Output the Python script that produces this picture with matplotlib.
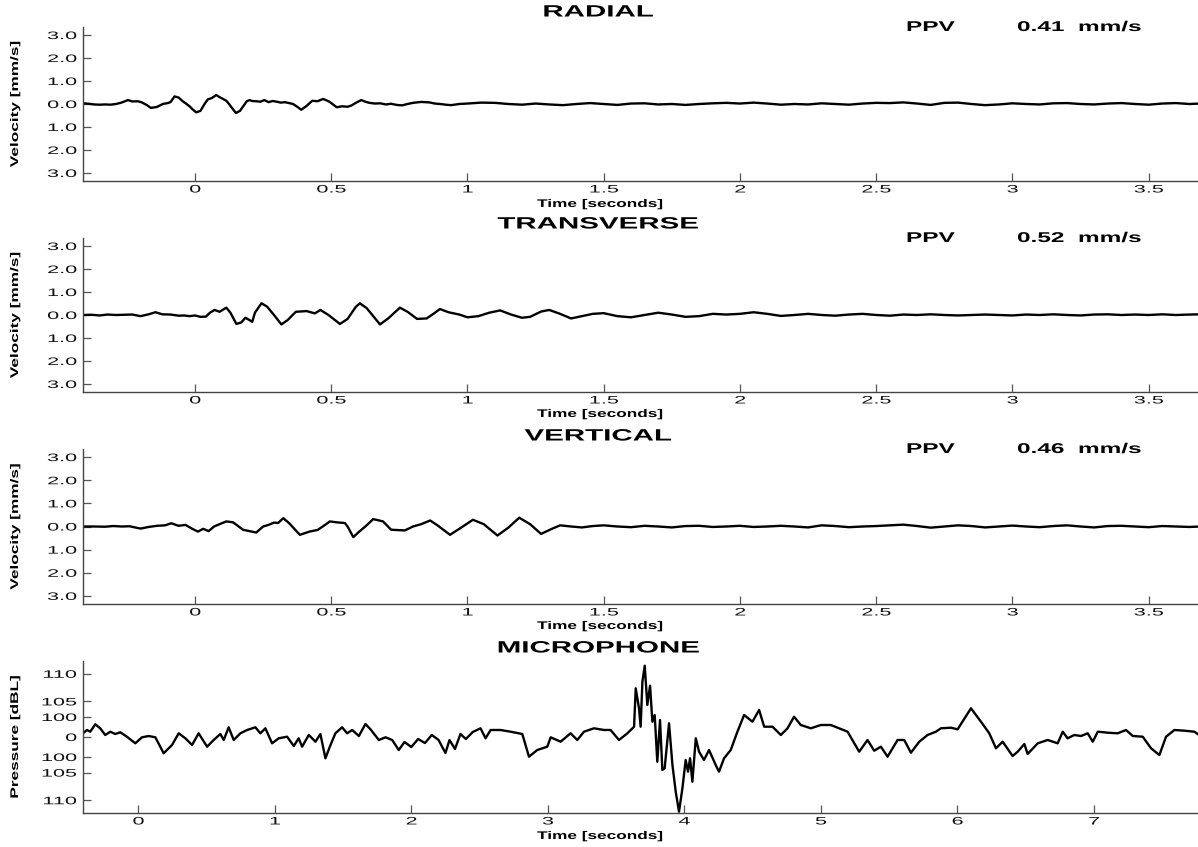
import matplotlib
matplotlib.use("Agg")
import matplotlib.pyplot as plt
import numpy as np
from matplotlib.patheffects import AbstractPathEffect
from matplotlib.transforms import Affine2D

# ---------------- data ----------------
rad_t = [-0.41,-0.39,-0.37,-0.35,-0.33,-0.31,-0.29,-0.27,-0.246,-0.23,-0.21,-0.195,-0.175,-0.162,-0.14,-0.118,
         -0.10,-0.09,-0.075,-0.06,-0.045,-0.033,-0.02,-0.01,0.004,0.02,0.035,0.047,0.062,0.078,0.09,0.10,0.115,
         0.125,0.135,0.15,0.165,0.18,0.19,0.20,0.21,0.225,0.24,0.255,0.27,0.285,0.30,0.315,0.33,0.345,0.36,
         0.375,0.39,0.41,0.43,0.45,0.47,0.49,0.50,0.52,0.54,0.56,0.575,0.59,0.61,0.625,0.64,0.66,0.68,0.70,
         0.72,0.74,0.76,0.78,0.80,0.83,0.86,0.88,0.90,0.92,0.94,0.97,1.00,1.05,1.10,1.15,1.20,1.25,1.30,1.35,
         1.40,1.45,1.50,1.55,1.60,1.65,1.70,1.75,1.80,1.85,1.90,1.95,2.00,2.05,2.10,2.15,2.20,2.25,2.30,2.35,
         2.40,2.45,2.50,2.55,2.60,2.65,2.70,2.75,2.80,2.85,2.90,2.95,3.00,3.05,3.10,3.15,3.20,3.25,3.30,3.35,
         3.40,3.45,3.50,3.55,3.60,3.65,3.69]
rad_v = [0.03,0.01,-0.02,-0.03,-0.02,-0.03,0.00,0.06,0.17,0.11,0.12,0.07,-0.06,-0.17,-0.13,0.00,
         0.04,0.08,0.33,0.28,0.12,0.02,-0.10,-0.22,-0.36,-0.30,0.00,0.20,0.26,0.39,0.30,0.24,0.14,
         0.00,-0.16,-0.39,-0.30,-0.05,0.12,0.17,0.13,0.12,0.10,0.17,0.08,0.13,0.10,0.06,0.08,0.04,0.00,
         -0.12,-0.25,-0.08,0.14,0.12,0.22,0.12,0.04,-0.14,-0.10,-0.12,-0.06,0.05,0.17,0.10,0.05,0.02,0.03,-0.02,
         0.01,-0.04,-0.06,0.00,0.05,0.09,0.07,0.02,0.00,-0.03,-0.05,0.00,0.02,0.06,0.05,0.00,-0.03,0.02,-0.02,-0.05,
         0.00,0.04,0.00,-0.04,0.02,0.03,-0.02,0.00,-0.04,0.00,0.03,0.05,0.02,0.06,0.02,-0.03,0.00,-0.02,0.03,0.00,
         -0.03,0.02,0.05,0.04,0.07,0.02,-0.04,0.05,0.06,0.00,-0.05,-0.02,0.03,0.00,-0.02,0.03,0.04,0.00,-0.02,0.02,
         0.04,0.00,-0.03,0.02,0.04,0.00,0.02]

tra_t = [-0.41,-0.38,-0.35,-0.32,-0.29,-0.26,-0.23,-0.20,-0.17,-0.145,-0.12,-0.09,-0.06,-0.04,-0.02,0.0,0.02,
         0.04,0.055,0.072,0.09,0.115,0.13,0.152,0.17,0.185,0.20,0.21,0.22,0.244,0.265,0.29,0.317,0.34,0.37,
         0.41,0.44,0.46,0.49,0.532,0.56,0.59,0.605,0.63,0.679,0.71,0.752,0.78,0.815,0.85,0.875,0.899,0.93,
         0.97,1.00,1.04,1.08,1.12,1.16,1.20,1.23,1.27,1.30,1.34,1.38,1.42,1.46,1.50,1.55,1.60,1.65,1.70,1.75,
         1.80,1.85,1.90,1.95,2.00,2.05,2.10,2.15,2.20,2.25,2.30,2.35,2.40,2.45,2.50,2.55,2.60,2.65,2.70,2.75,
         2.80,2.85,2.90,2.95,3.00,3.05,3.10,3.15,3.20,3.25,3.30,3.35,3.40,3.45,3.50,3.55,3.60,3.65,3.69]
tra_v = [0.00,0.01,-0.02,0.02,0.00,0.01,0.02,-0.05,0.03,0.12,0.03,0.02,-0.03,-0.02,-0.05,-0.02,-0.08,
         -0.07,0.10,0.22,0.14,0.32,0.10,-0.39,-0.32,-0.12,-0.22,-0.30,0.10,0.51,0.36,0.00,-0.41,-0.22,0.14,
         0.17,0.07,0.22,0.00,-0.39,-0.17,0.35,0.51,0.30,-0.41,-0.14,0.32,0.14,-0.17,-0.15,0.05,0.26,0.12,
         0.02,-0.10,-0.05,0.10,0.20,0.02,-0.12,-0.08,0.15,0.22,0.05,-0.15,-0.05,0.05,0.08,-0.05,-0.10,0.00,0.10,0.02,
         -0.08,-0.05,0.05,0.02,0.05,0.12,0.05,-0.04,0.00,0.05,0.00,-0.03,0.02,0.05,0.00,-0.03,0.02,0.00,0.03,0.00,
         -0.02,0.00,0.02,0.00,-0.02,0.02,0.00,0.03,0.00,-0.02,0.02,0.03,0.00,0.02,0.00,0.03,0.00,0.02,0.03]

ver_t = [-0.41,-0.37,-0.33,-0.30,-0.27,-0.24,-0.20,-0.17,-0.14,-0.11,-0.087,-0.06,-0.035,-0.01,0.011,0.03,0.05,
         0.07,0.09,0.115,0.14,0.176,0.20,0.225,0.25,0.27,0.29,0.305,0.324,0.345,0.385,0.42,0.45,0.475,0.495,
         0.52,0.55,0.56,0.581,0.60,0.63,0.654,0.69,0.72,0.77,0.80,0.83,0.863,0.89,0.936,0.97,1.02,1.06,1.11,
         1.15,1.19,1.23,1.27,1.31,1.34,1.38,1.42,1.46,1.50,1.55,1.60,1.65,1.70,1.75,1.80,1.85,1.90,1.95,2.00,
         2.05,2.10,2.15,2.20,2.25,2.30,2.35,2.40,2.45,2.50,2.55,2.60,2.65,2.70,2.75,2.80,2.85,2.90,2.95,3.00,
         3.05,3.10,3.15,3.20,3.25,3.30,3.35,3.40,3.45,3.50,3.55,3.60,3.65,3.69]
ver_v = [0.00,0.00,-0.01,0.02,0.00,0.01,-0.09,-0.02,0.03,0.05,0.14,0.03,0.07,-0.10,-0.22,-0.10,-0.20,
         0.00,0.10,0.22,0.18,-0.14,-0.20,-0.26,0.00,0.07,0.17,0.15,0.36,0.15,-0.36,-0.22,-0.15,0.05,0.22,
         0.18,0.15,0.00,-0.46,-0.25,0.05,0.32,0.22,-0.14,-0.17,0.00,0.10,0.26,0.05,-0.36,-0.10,0.29,0.10,-0.39,
         -0.05,0.38,0.10,-0.32,-0.10,0.05,0.00,-0.04,0.02,0.05,0.00,-0.03,0.03,0.00,-0.04,0.02,0.03,-0.02,0.00,0.03,
         -0.02,0.00,0.03,0.00,-0.04,0.05,0.02,-0.03,0.00,0.02,0.05,0.08,0.02,-0.05,0.00,0.05,0.02,-0.04,0.00,0.04,
         0.00,-0.03,0.02,0.05,0.00,-0.04,0.02,0.03,0.00,-0.03,0.02,0.00,-0.02,0.00]

mic_t = [-0.405,-0.376,-0.352,-0.315,-0.279,-0.242,-0.205,-0.169,-0.132,-0.083,-0.022,0.027,0.076,0.125,0.186,
         0.247,0.296,0.345,0.394,0.442,0.504,0.552,0.601,0.626,0.662,0.699,0.748,0.797,0.858,0.894,0.931,0.980,
         1.029,1.090,1.139,1.175,1.200,1.249,1.298,1.334,1.371,1.408,1.444,1.493,1.530,1.567,1.616,1.664,1.701,
         1.762,1.811,1.860,1.908,1.95,2.00,2.05,2.10,2.15,2.20,2.25,2.28,2.32,2.36,2.40,2.45,2.507,2.544,2.581,
         2.654,2.727,2.813,2.862,2.923,2.996,3.021,3.094,3.167,3.216,3.265,3.338,3.412,3.460,3.521,3.583,3.632,
         3.644,3.668,3.680,3.693,3.710,3.729,3.749,3.766,3.783,3.802,3.822,3.839,3.856,3.888,3.913,3.937,3.961,
         3.986,4.010,4.027,4.042,4.059,4.084,4.108,4.144,4.181,4.230,4.254,4.291,4.340,4.389,4.438,4.499,4.548,
         4.585,4.646,4.707,4.756,4.804,4.853,4.927,5.000,5.073,5.134,5.196,5.281,5.342,5.391,5.440,5.489,5.562,
         5.611,5.660,5.721,5.782,5.843,5.880,5.953,6.002,6.100,6.173,6.234,6.283,6.332,6.405,6.442,6.491,6.515,
         6.589,6.662,6.735,6.772,6.808,6.857,6.906,6.955,6.992,7.029,7.102,7.175,7.236,7.285,7.358,7.419,7.480,
         7.529,7.590,7.664,7.737,7.771]
mic_p = [0.37,0.70,0.53,1.27,0.87,0.20,0.53,0.30,0.47,0.03,-0.63,-0.03,0.10,-0.03,-1.63,
         -0.80,0.37,-0.13,-0.80,0.37,-0.97,-0.30,0.30,-0.30,0.97,-0.30,0.37,0.70,0.97,0.37,0.87,-0.63,
         -0.13,0.03,-0.90,-0.13,-0.97,0.20,-0.47,0.30,-2.13,-0.80,0.37,0.97,0.37,0.70,0.10,1.30,0.77,
         -0.30,-0.03,-0.30,-1.30,-0.50,-1.00,-0.20,-0.60,0.20,-0.30,-1.60,-0.30,-1.20,0.30,-0.20,0.50,0.87,-0.13,0.70,
         0.70,0.53,0.30,-1.97,-1.30,-0.97,-0.03,-0.47,0.37,-0.30,0.53,0.87,0.70,0.70,-0.30,0.37,1.03,
         4.87,2.87,1.03,5.53,7.13,3.20,5.13,1.53,2.20,-2.47,1.70,-3.30,-3.13,1.37,-2.80,-5.47,-7.47,
         -5.13,-2.30,-3.47,-2.13,-4.47,-0.13,-1.47,-2.30,-1.30,-2.80,-3.47,-2.13,-1.30,0.53,2.20,1.53,2.70,
         1.03,1.03,0.20,0.87,2.03,1.20,0.87,1.20,1.20,0.87,0.53,-1.47,-0.30,-1.37,-0.97,-1.97,-0.30,
         -0.30,-1.57,-0.47,0.20,0.53,0.87,0.93,0.77,2.87,1.53,0.37,-1.13,-0.47,-1.90,-1.47,-0.70,-1.70,
         -0.63,-0.30,-0.63,0.53,-0.13,0.20,0.10,0.37,-0.47,0.53,0.43,0.37,0.70,0.10,0.03,-1.13,-1.80,
         0.03,0.70,0.63,0.53,0.20]

titles = ["RADIAL", "TRANSVERSE", "VERTICAL", "MICROPHONE"]
ppv_values = ["0.41", "0.52", "0.46"]
vel_ticks = [3, 2, 1, 0, -1, -2, -3]
vel_ticklabels = ["3.0", "2.0", "1.0", "0.0", "1.0", "2.0", "3.0"]
vel_xticks = [0, 0.5, 1, 1.5, 2, 2.5, 3, 3.5]
vel_xticklabels = ["0", "0.5", "1", "1.5", "2", "2.5", "3", "3.5"]
mic_db = [110, 105, 100, 0, -100, -105, -110]
mic_ticklabels = ["110", "105", "100", "0", "100", "105", "110"]
mic_xticks = [0, 1, 2, 3, 4, 5, 6, 7]

# ---------------- style helpers ----------------
class Stretch(AbstractPathEffect):
    """Draw text glyphs stretched horizontally (along the text direction)."""
    def __init__(self, sx=1.7, anchor="center"):
        super().__init__()
        self.sx = sx
        self.anchor = anchor

    def draw_path(self, renderer, gc, tpath, affine, rgbFace=None):
        v = tpath.vertices
        if len(v):
            x0, x1 = float(v[:, 0].min()), float(v[:, 0].max())
        else:
            x0 = x1 = 0.0
        c = {"left": 0.0, "center": (x0 + x1) / 2.0, "right": x1}[self.anchor]
        t = Affine2D().translate(-c, 0).scale(self.sx, 1.0).translate(c, 0) + affine
        renderer.draw_path(gc, tpath, t, rgbFace)

plt.rcParams["font.family"] = ["Liberation Sans", "DejaVu Sans"]

W, H = 1198, 847
fig = plt.figure(figsize=(W / 100, H / 100), dpi=100)

TICK_FS = 7.8
TICK_SX = 2.0
LAB_FS = 8.0
LAB_SX = 1.55
TITLE_FS = 11.8
TITLE_SX = 1.8
PPV_FS = 10.2
PPV_SX = 1.72
LINE_W = 1.7

def make_axes(top, bottom):
    ax = fig.add_axes([83 / W, 1 - bottom / H, (W - 83) / W, (bottom - top) / H])
    for s in ("top", "right"):
        ax.spines[s].set_visible(False)
    for s in ("left", "bottom"):
        ax.spines[s].set_color("#444444")
        ax.spines[s].set_linewidth(1.0)
    ax.tick_params(direction="in", length=5.5, width=0.9, color="#555555",
                   labelsize=TICK_FS, labelcolor="#111111")
    ax.tick_params(axis="y", pad=4.5)
    ax.tick_params(axis="x", pad=2.5)
    ax.set_facecolor("white")
    return ax

def style_ticklabels(ax):
    for lab in ax.get_yticklabels():
        lab.set_path_effects([Stretch(TICK_SX, "right")])
    for lab in ax.get_xticklabels():
        lab.set_path_effects([Stretch(TICK_SX, "center")])

def axis_labels(ax, ylabel, ycenter_px, xlabel_px):
    fig.text(15 / W, 1 - ycenter_px / H, ylabel, rotation=90, ha="center", va="center",
             fontsize=LAB_FS, fontweight="bold",
             path_effects=[Stretch(LAB_SX, "center")])
    fig.text(600 / W, 1 - xlabel_px / H, "Time [seconds]", ha="center", va="center",
             fontsize=LAB_FS, fontweight="bold",
             path_effects=[Stretch(LAB_SX, "center")])

def title(txt, y_px):
    fig.text(598 / W, 1 - y_px / H, txt, ha="center", va="center",
             fontsize=TITLE_FS, fontweight="bold",
             path_effects=[Stretch(TITLE_SX, "center")])

def ppv(val, y_px):
    fig.text(906 / W, 1 - y_px / H, "PPV", ha="left", va="center",
             fontsize=PPV_FS, fontweight="bold", path_effects=[Stretch(PPV_SX, "left")])
    fig.text(1017 / W, 1 - y_px / H, val + "  mm/s", ha="left", va="center",
             fontsize=PPV_FS, fontweight="bold", path_effects=[Stretch(PPV_SX, "left")])

vel_series = [(rad_t, rad_v), (tra_t, tra_v), (ver_t, ver_v)]
vel_layout = [  # (axes top, axes bottom, title y, xlabel y, ppv y)
    (27, 181, 12, 204, 27),
    (238, 392, 224, 414, 238),
    (449, 604, 436, 626, 449),
]

for i, ((t, v), (top, bot, ty, xly, py)) in enumerate(zip(vel_series, vel_layout)):
    ax = make_axes(top, bot)
    ax.plot(t, v, color="black", lw=LINE_W, solid_joinstyle="round")
    ax.set_xlim(-0.411, 3.681)
    ax.set_ylim(-3.35, 3.35)
    ax.set_yticks(vel_ticks)
    ax.set_yticklabels(vel_ticklabels)
    ax.set_xticks(vel_xticks)
    ax.set_xticklabels(vel_xticklabels)
    style_ticklabels(ax)
    title(titles[i], ty)
    axis_labels(ax, "Velocity [mm/s]", (top + bot) / 2, xly)
    ppv(ppv_values[i], py)

# microphone: linear pressure axis (Pa), labelled in dBL
ax = make_axes(661, 813)
ax.plot(mic_t, mic_p, color="black", lw=LINE_W, solid_joinstyle="round")
ax.set_xlim(-0.405, 7.763)
ax.set_ylim(-7.6, 7.6)
mic_pos = [np.sign(d) * 20e-6 * 10 ** (abs(d) / 20) if d != 0 else 0.0 for d in mic_db]
ax.set_yticks(mic_pos)
ax.set_yticklabels(mic_ticklabels)
ax.set_xticks(mic_xticks)
ax.set_xticklabels([str(x) for x in mic_xticks])
style_ticklabels(ax)
title(titles[3], 648)
axis_labels(ax, "Pressure [dBL]", 737, 836)

fig.savefig("out.png", dpi=100, facecolor="white")
